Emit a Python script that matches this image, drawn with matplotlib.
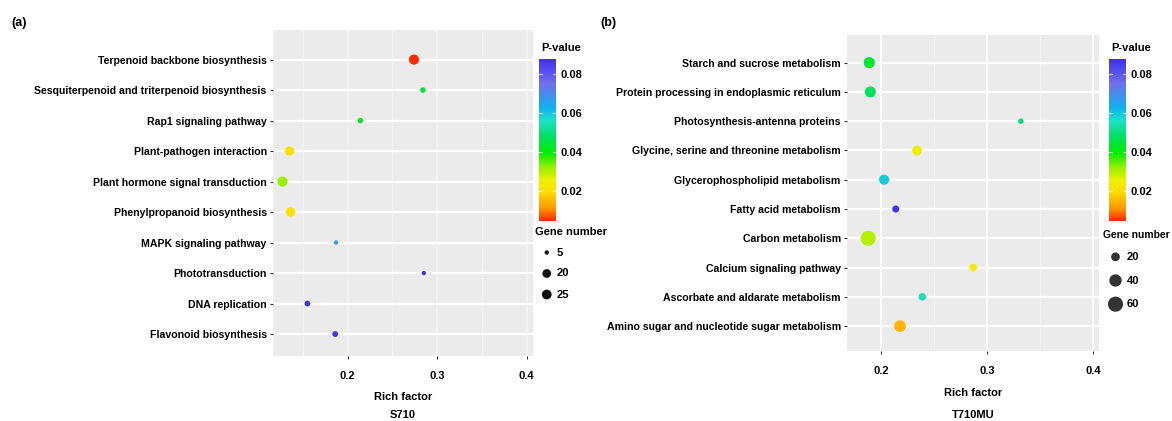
import numpy as np
import matplotlib
matplotlib.use("Agg")
import matplotlib.pyplot as plt
from matplotlib.colors import LinearSegmentedColormap, Normalize
from matplotlib.ticker import MultipleLocator

plt.rcParams['font.family'] = ['Liberation Sans', 'DejaVu Sans']
plt.rcParams['font.weight'] = 'bold'

# ---- data: panel (a) S710 ----
terms_a = [
    "Terpenoid backbone biosynthesis",
    "Sesquiterpenoid and triterpenoid biosynthesis",
    "Rap1 signaling pathway",
    "Plant-pathogen interaction",
    "Plant hormone signal transduction",
    "Phenylpropanoid biosynthesis",
    "MAPK signaling pathway",
    "Phototransduction",
    "DNA replication",
    "Flavonoid biosynthesis",
]
rich_a = [0.274, 0.284, 0.214, 0.135, 0.127, 0.136, 0.187, 0.285, 0.155, 0.186]
pval_a = [0.005, 0.045, 0.044, 0.021, 0.032, 0.021, 0.066, 0.088, 0.087, 0.087]
genes_a = [27, 8, 8, 23, 27, 23, 5, 5, 9, 9]
size_breaks_a = [5, 20, 25]

# ---- data: panel (b) T710MU ----
terms_b = [
    "Starch and sucrose metabolism",
    "Protein processing in endoplasmic reticulum",
    "Photosynthesis-antenna proteins",
    "Glycine, serine and threonine metabolism",
    "Glycerophospholipid metabolism",
    "Fatty acid metabolism",
    "Carbon metabolism",
    "Calcium signaling pathway",
    "Ascorbate and aldarate metabolism",
    "Amino sugar and nucleotide sugar metabolism",
]
rich_b = [0.189, 0.190, 0.332, 0.234, 0.203, 0.214, 0.188, 0.287, 0.239, 0.218]
pval_b = [0.044, 0.048, 0.050, 0.025, 0.059, 0.087, 0.030, 0.023, 0.055, 0.015]
genes_b = [33, 32, 8, 25, 27, 13, 60, 15, 15, 36]
size_breaks_b = [20, 40, 60]

pbar_ticks = [0.02, 0.04, 0.06, 0.08]
x_ticks = [0.2, 0.3, 0.4]
P_MIN, P_MAX = 0.0048, 0.0878

cmap = LinearSegmentedColormap.from_list("kegg", [
    (0.00, "#FF2A00"), (0.08, "#FF9A00"), (0.18, "#FFDD00"), (0.25, "#EEF000"),
    (0.33, "#99EE00"), (0.42, "#00EE00"), (0.52, "#00E060"), (0.62, "#1EE0C8"),
    (0.70, "#10B0F0"), (0.85, "#7070E8"), (1.00, "#4030F2"),
])
norm = Normalize(P_MIN, P_MAX)

W, H = 1172, 421
fig = plt.figure(figsize=(W / 100, H / 100), dpi=100)


def box(l, t, r, b):
    return [l / W, (H - b) / H, (r - l) / W, (b - t) / H]


def dot_size(n):
    d_px = 1.95 * np.sqrt(np.asarray(n, dtype=float))
    return (d_px * 0.72) ** 2


def panel(ax_box, cbar_box, leg_box, terms, rich, pval, genes, breaks,
          xlim, ylim, faint_major, leg_color, sample, tag, tag_x, rich_y, gn_fs):
    ax = fig.add_axes(box(*ax_box))
    ax.set_facecolor("#EBEBEB")
    y = np.arange(len(terms))[::-1]
    ax.scatter(rich, y, s=dot_size(genes), c=pval, cmap=cmap, norm=norm,
               linewidths=0, zorder=3)
    ax.set_xlim(*xlim)
    ax.set_ylim(*ylim)
    ax.set_yticks(y)
    ax.set_yticklabels(terms, fontsize=7.6, fontweight='bold')
    ax.set_xticks(x_ticks)
    ax.set_xticklabels([f"{t:.1f}" for t in x_ticks], fontsize=8, fontweight='bold')
    ax.xaxis.set_minor_locator(MultipleLocator(0.05))
    ax.tick_params(axis='both', which='major', length=2.5, width=0.8,
                   color="#333333", pad=2)
    ax.tick_params(axis='x', which='minor', length=0)
    ax.tick_params(axis='x', pad=8)
    for sp in ax.spines.values():
        sp.set_visible(False)
    ax.set_axisbelow(True)
    ax.grid(axis='y', which='major', color="white", lw=1.6)
    vcol = "#F3F3F3" if faint_major else "white"
    ax.grid(axis='x', which='major', color=vcol, lw=1.3)
    ax.grid(axis='x', which='minor', color="#F3F3F3", lw=0.8)

    # colorbar
    cax = fig.add_axes(box(*cbar_box))
    cb = fig.colorbar(plt.cm.ScalarMappable(norm=norm, cmap=cmap), cax=cax,
                      ticks=pbar_ticks)
    cb.outline.set_visible(False)
    cb.ax.tick_params(length=0, labelsize=8, pad=3)
    for t in pbar_ticks:
        cax.plot([0, 0.18], [t, t], color="white", lw=0.8, alpha=0.7)
        cax.plot([0.82, 1], [t, t], color="white", lw=0.8, alpha=0.7)
    cb.ax.set_yticklabels([f"{t:.2f}" for t in pbar_ticks], fontweight='bold')
    fig.text(cbar_box[0] + 2, H - (cbar_box[1] - 11), "P-value", fontsize=8,
             fontweight='bold', va='center', ha='left', transform=None)

    # size legend
    lax = fig.add_axes(box(*leg_box))
    lax.set_xlim(0, 1)
    lax.set_ylim(len(breaks) - 0.5, -0.5)
    lax.axis('off')
    ly = np.arange(len(breaks))
    lax.scatter([0.15] * len(breaks), ly, s=dot_size(breaks), c=leg_color,
                linewidths=0)
    for yy, b in zip(ly, breaks):
        lax.text(0.38, yy, str(b), fontsize=8, fontweight='bold', va='center')
    fig.text(leg_box[0] - 5, H - (leg_box[1] - 10), "Gene number", fontsize=gn_fs,
             fontweight='bold', va='center', ha='left', transform=None)

    cx = (ax_box[0] + ax_box[2]) / 2
    fig.text(cx / W, 1 - rich_y / H, "Rich factor", fontsize=8,
             fontweight='bold', ha='center', va='center')
    fig.text(cx / W, 1 - 415 / H, sample, fontsize=8,
             fontweight='bold', ha='center', va='center')
    fig.text(tag_x / W, 1 - 23 / H, tag, fontsize=9, fontweight='bold',
             ha='left', va='center')
    return ax


panel((273, 30, 533, 356), (539, 59, 556, 221), (540, 242, 585, 305),
      terms_a, rich_a, pval_a, genes_a, size_breaks_a,
      (0.1165, 0.407), (-0.72, 9.97), True, "#111111", "S710", "(a)", 11, 397, 8)

panel((847, 34.5, 1099, 351), (1109, 59, 1126, 221), (1108, 245, 1158, 316),
      terms_b, rich_b, pval_b, genes_b, size_breaks_b,
      (0.168, 0.4057), (-0.85, 9.96), False, "#333333", "T710MU", "(b)", 600, 393, 7.4)

fig.savefig("out.png", dpi=100)
